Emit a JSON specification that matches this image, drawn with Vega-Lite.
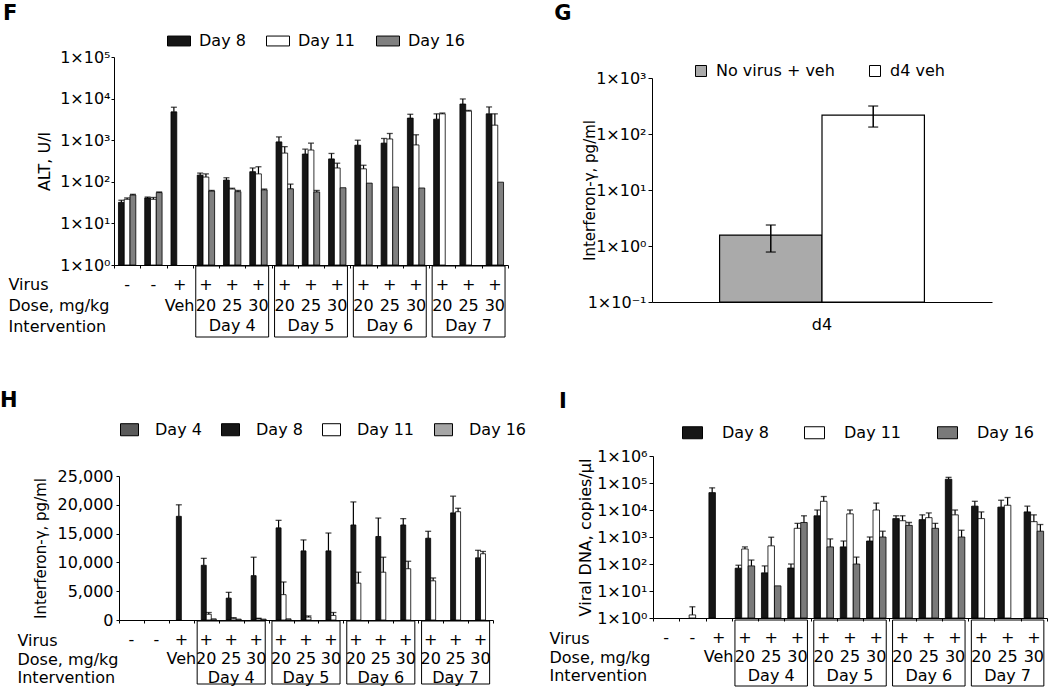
{
"$schema": "https://vega.github.io/schema/vega-lite/v6.json",
"background": "white",
"padding": {"left": 0, "top": 3, "right": 0, "bottom": 0},
"config": {
  "font": "DejaVu Sans",
  "view": {"stroke": null},
  "axis": {"labelColor": "black", "titleColor": "black", "domainColor": "black", "tickColor": "black", "grid": false, "labelFontSize": 16, "titleFontSize": 16, "titleFontWeight": "normal", "labelOverlap": false},
  "legend": {"labelColor": "black", "labelFontSize": 16},
  "title": {"fontSize": 21, "fontWeight": "bold", "anchor": "start", "frame": "bounds", "color": "black"},
  "text": {"color": "black", "fontSize": 16}
},
"datasets": {
  "F": [
    {"g":1,"s":"Day 8","v":32,"hi":36},{"g":1,"s":"Day 11","v":38,"hi":41},{"g":1,"s":"Day 16","v":48,"hi":50},
    {"g":2,"s":"Day 8","v":41,"hi":43},{"g":2,"s":"Day 11","v":38,"hi":42},{"g":2,"s":"Day 16","v":55,"hi":57},
    {"g":3,"s":"Day 8","v":4800,"hi":6200},
    {"g":4,"s":"Day 8","v":145,"hi":162},{"g":4,"s":"Day 11","v":130,"hi":155},{"g":4,"s":"Day 16","v":60,"hi":62},
    {"g":5,"s":"Day 8","v":110,"hi":125},{"g":5,"s":"Day 11","v":67,"hi":70},{"g":5,"s":"Day 16","v":58,"hi":62},
    {"g":6,"s":"Day 8","v":175,"hi":215},{"g":6,"s":"Day 11","v":155,"hi":230},{"g":6,"s":"Day 16","v":64,"hi":67},
    {"g":7,"s":"Day 8","v":910,"hi":1200},{"g":7,"s":"Day 11","v":490,"hi":700},{"g":7,"s":"Day 16","v":68,"hi":88},
    {"g":8,"s":"Day 8","v":465,"hi":610},{"g":8,"s":"Day 11","v":580,"hi":850},{"g":8,"s":"Day 16","v":57,"hi":62},
    {"g":9,"s":"Day 8","v":355,"hi":480},{"g":9,"s":"Day 11","v":215,"hi":280},{"g":9,"s":"Day 16","v":72},
    {"g":10,"s":"Day 8","v":760,"hi":1000},{"g":10,"s":"Day 11","v":205,"hi":250},{"g":10,"s":"Day 16","v":93},
    {"g":11,"s":"Day 8","v":850,"hi":1100},{"g":11,"s":"Day 11","v":1070,"hi":1450},{"g":11,"s":"Day 16","v":75},
    {"g":12,"s":"Day 8","v":3400,"hi":4200},{"g":12,"s":"Day 11","v":770,"hi":1350},{"g":12,"s":"Day 16","v":71},
    {"g":13,"s":"Day 8","v":3200,"hi":4300},{"g":13,"s":"Day 11","v":4300,"hi":4500},
    {"g":14,"s":"Day 8","v":7400,"hi":9800},{"g":14,"s":"Day 11","v":5000,"hi":5200},
    {"g":15,"s":"Day 8","v":4300,"hi":6300},{"g":15,"s":"Day 11","v":2300,"hi":4300},{"g":15,"s":"Day 16","v":98}
  ],
  "G": [
    {"grp":"d4","s":"No virus + veh","v":1.57,"lo":0.78,"hi":2.37},
    {"grp":"d4","s":"d4 veh","v":218,"lo":133,"hi":316}
  ],
  "H": [
    {"g":3,"s":"Day 8","v":18000,"hi":20000},
    {"g":4,"s":"Day 8","v":9500,"hi":10700},{"g":4,"s":"Day 11","v":1000,"hi":1300},{"g":4,"s":"Day 16","v":200},
    {"g":5,"s":"Day 8","v":3800,"hi":4800},{"g":5,"s":"Day 11","v":300,"hi":400},{"g":5,"s":"Day 16","v":150},
    {"g":6,"s":"Day 8","v":7700,"hi":10900},{"g":6,"s":"Day 11","v":250,"hi":300},{"g":6,"s":"Day 16","v":150},
    {"g":7,"s":"Day 8","v":16000,"hi":17300},{"g":7,"s":"Day 11","v":4400,"hi":6600},{"g":7,"s":"Day 16","v":200},
    {"g":8,"s":"Day 8","v":12000,"hi":13900},{"g":8,"s":"Day 11","v":500,"hi":700},
    {"g":9,"s":"Day 8","v":12000,"hi":15100},{"g":9,"s":"Day 11","v":800,"hi":1300},
    {"g":10,"s":"Day 8","v":16500,"hi":20500},{"g":10,"s":"Day 11","v":6400,"hi":8300},
    {"g":11,"s":"Day 8","v":14500,"hi":17700},{"g":11,"s":"Day 11","v":8300,"hi":10900},
    {"g":12,"s":"Day 8","v":16500,"hi":17600},{"g":12,"s":"Day 11","v":8900,"hi":10200},
    {"g":13,"s":"Day 8","v":14200,"hi":15400},{"g":13,"s":"Day 11","v":6800,"hi":7300},
    {"g":14,"s":"Day 8","v":18600,"hi":21500},{"g":14,"s":"Day 11","v":18800,"hi":19400},
    {"g":15,"s":"Day 8","v":10800,"hi":12100},{"g":15,"s":"Day 11","v":11500,"hi":11900}
  ],
  "I": [
    {"g":2,"s":"Day 11","v":1.3,"hi":2.6},
    {"g":3,"s":"Day 8","v":44000,"hi":66000},
    {"g":4,"s":"Day 8","v":70,"hi":90},{"g":4,"s":"Day 11","v":360,"hi":430},{"g":4,"s":"Day 16","v":85,"hi":140},
    {"g":5,"s":"Day 8","v":47,"hi":85},{"g":5,"s":"Day 11","v":470,"hi":980},{"g":5,"s":"Day 16","v":15.5},
    {"g":6,"s":"Day 8","v":71,"hi":100},{"g":6,"s":"Day 11","v":2100,"hi":3200},{"g":6,"s":"Day 16","v":3450,"hi":6100},
    {"g":7,"s":"Day 8","v":6100,"hi":10000},{"g":7,"s":"Day 11","v":21000,"hi":31600},{"g":7,"s":"Day 16","v":430,"hi":850},
    {"g":8,"s":"Day 8","v":430,"hi":710},{"g":8,"s":"Day 11","v":7200,"hi":10000},{"g":8,"s":"Day 16","v":100,"hi":180},
    {"g":9,"s":"Day 8","v":710,"hi":1000},{"g":9,"s":"Day 11","v":10000,"hi":18000},{"g":9,"s":"Day 16","v":1000,"hi":1640},
    {"g":10,"s":"Day 8","v":4800,"hi":6100},{"g":10,"s":"Day 11","v":4000,"hi":6100},{"g":10,"s":"Day 16","v":2700,"hi":3450},
    {"g":11,"s":"Day 8","v":4400,"hi":6600},{"g":11,"s":"Day 11","v":5200,"hi":7800},{"g":11,"s":"Day 16","v":2100,"hi":3200},
    {"g":12,"s":"Day 8","v":138000,"hi":162000},{"g":12,"s":"Day 11","v":6600,"hi":10000},{"g":12,"s":"Day 16","v":1000,"hi":1780},
    {"g":13,"s":"Day 8","v":13900,"hi":21000},{"g":13,"s":"Day 11","v":4800,"hi":8500},
    {"g":14,"s":"Day 8","v":12800,"hi":23000},{"g":14,"s":"Day 11","v":15000,"hi":29000},
    {"g":15,"s":"Day 8","v":8500,"hi":13900},{"g":15,"s":"Day 11","v":3700,"hi":6600},{"g":15,"s":"Day 16","v":1640,"hi":2900}
  ],
  "tbl": [
    {"g":1,"row":"Virus","t":"-"},{"g":2,"row":"Virus","t":"-"},{"g":3,"row":"Virus","t":"+"},
    {"g":4,"row":"Virus","t":"+"},{"g":5,"row":"Virus","t":"+"},{"g":6,"row":"Virus","t":"+"},
    {"g":7,"row":"Virus","t":"+"},{"g":8,"row":"Virus","t":"+"},{"g":9,"row":"Virus","t":"+"},
    {"g":10,"row":"Virus","t":"+"},{"g":11,"row":"Virus","t":"+"},{"g":12,"row":"Virus","t":"+"},
    {"g":13,"row":"Virus","t":"+"},{"g":14,"row":"Virus","t":"+"},{"g":15,"row":"Virus","t":"+"},
    {"g":3,"row":"Dose, mg/kg","t":"Veh"},
    {"g":4,"row":"Dose, mg/kg","t":"20"},{"g":5,"row":"Dose, mg/kg","t":"25"},{"g":6,"row":"Dose, mg/kg","t":"30"},
    {"g":7,"row":"Dose, mg/kg","t":"20"},{"g":8,"row":"Dose, mg/kg","t":"25"},{"g":9,"row":"Dose, mg/kg","t":"30"},
    {"g":10,"row":"Dose, mg/kg","t":"20"},{"g":11,"row":"Dose, mg/kg","t":"25"},{"g":12,"row":"Dose, mg/kg","t":"30"},
    {"g":13,"row":"Dose, mg/kg","t":"20"},{"g":14,"row":"Dose, mg/kg","t":"25"},{"g":15,"row":"Dose, mg/kg","t":"30"}
  ],
  "boxes": [{"b":"Day 4"},{"b":"Day 5"},{"b":"Day 6"},{"b":"Day 7"}],
  "blank": [{}]
},
"spacing": 52,
"bounds": "full",
"resolve": {"scale": {"x": "independent", "y": "independent", "xOffset": "independent", "fill": "independent"}, "legend": {"fill": "independent"}},
"vconcat": [
  {
    "hconcat": [
      {
        "title": {"text": "F", "offset": 5, "dx": -5},
        "bounds": "flush",
        "spacing": 1,
        "resolve": {"scale": {"x": "independent", "y": "independent", "xOffset": "independent", "fill": "independent"}, "legend": {"fill": "independent"}},
        "vconcat": [
          {
            "width": 394, "height": 208,
            "data": {"name": "F"},
            "encoding": {
              "x": {"field": "g", "type": "ordinal", "scale": {"domain": [1,2,3,4,5,6,7,8,9,10,11,12,13,14,15], "paddingInner": 0, "paddingOuter": 0}, "axis": {"labels": false, "title": null, "tickBand": "extent", "tickSize": 3}},
              "xOffset": {"field": "s", "type": "nominal", "scale": {"domain": ["Day 8","Day 11","Day 16"], "paddingInner": 0, "paddingOuter": 0.77}}
            },
            "layer": [
              {"mark": {"type": "bar", "stroke": "black", "strokeWidth": 0.8},
               "encoding": {
                 "y": {"field": "v", "type": "quantitative", "scale": {"type": "log", "domain": [1, 100000], "nice": false},
                       "axis": {"title": "ALT, U/l", "values": [1,10,100,1000,10000,100000], "tickSize": 3, "labelPadding": 1, "titlePadding": 7, "labelOverlap": false,
                                "labelExpr": "'1×10' + ['⁰','¹','²','³','⁴','⁵','⁶'][round(log(datum.value)/LN10)]"}},
                 "y2": {"datum": 1},
                 "fill": {"field": "s", "type": "nominal", "scale": {"domain": ["Day 8","Day 11","Day 16"], "range": ["#161616","#ffffff","#808080"]},
                          "legend": {"orient": "none", "legendX": 53, "legendY": -28, "direction": "horizontal", "title": null, "padding": 0,
                                     "symbolType": "M-1,-0.43H1V0.43H-1Z", "symbolSize": 529, "symbolStrokeColor": "black", "symbolStrokeWidth": 1,
                                     "labelOffset": 8, "columnPadding": 18}}
               }},
              {"transform": [{"filter": "isValid(datum.hi)"}],
               "mark": {"type": "rule", "color": "black", "strokeWidth": 1.2},
               "encoding": {"y": {"field": "v", "type": "quantitative"}, "y2": {"field": "hi"}}},
              {"transform": [{"filter": "isValid(datum.hi)"}],
               "mark": {"type": "tick", "color": "black", "size": 6, "thickness": 1.3},
               "encoding": {"y": {"field": "hi", "type": "quantitative"}}}
            ]
          },
          {
            "width": 394, "height": 71,
            "resolve": {"scale": {"x": "independent"}},
            "layer": [
              {"data": {"name": "boxes"},
               "mark": {"type": "rect", "fill": "white", "fillOpacity": 0, "stroke": "black", "strokeWidth": 1},
               "encoding": {"x": {"field": "b", "type": "nominal", "scale": {"domain": ["none","Day 4","Day 5","Day 6","Day 7"], "paddingInner": 0.075, "paddingOuter": 0.0375}, "axis": null}}},
              {"data": {"name": "boxes"},
               "mark": {"type": "text", "dy": 4},
               "encoding": {"x": {"field": "b", "type": "nominal", "scale": {"domain": ["none","Day 4","Day 5","Day 6","Day 7"]}, "axis": null},
                            "y": {"datum": "Intervention", "type": "nominal"},
                            "text": {"field": "b"}}},
              {"data": {"name": "tbl"},
               "mark": {"type": "text", "dy": 4},
               "encoding": {"x": {"field": "g", "type": "ordinal", "scale": {"domain": [1,2,3,4,5,6,7,8,9,10,11,12,13,14,15]}, "axis": null},
                            "y": {"field": "row", "type": "nominal", "scale": {"type": "point", "domain": ["Virus","Dose, mg/kg","Intervention"], "padding": 0.73},
                                  "axis": {"title": null, "domain": false, "ticks": false, "tickSize": 0, "labelAlign": "left", "labelPadding": 106, "labelOffset": 4, "labelBaseline": "middle"}},
                            "text": {"field": "t"}}}
            ]
          }
        ]
      },
      {
        "title": {"text": "G", "offset": 33, "dx": -28},
        "bounds": "flush",
        "spacing": 1,
        "resolve": {"scale": {"x": "independent", "y": "independent", "xOffset": "independent", "fill": "independent"}, "legend": {"fill": "independent"}},
        "vconcat": [
          {"width": 340, "height": 20, "data": {"name": "blank"}, "mark": {"type": "point", "opacity": 0}},
          {
            "width": 340, "height": 224,
            "data": {"name": "G"},
            "encoding": {
              "x": {"field": "grp", "type": "nominal", "scale": {"paddingInner": 0, "paddingOuter": 0.33}, "axis": {"title": null, "ticks": false, "labelAngle": 0, "labelPadding": 14}},
              "xOffset": {"field": "s", "type": "nominal", "scale": {"domain": ["No virus + veh","d4 veh"], "paddingInner": 0, "paddingOuter": 0}}
            },
            "layer": [
              {"mark": {"type": "bar", "stroke": "black", "strokeWidth": 1.2},
               "encoding": {
                 "y": {"field": "v", "type": "quantitative", "scale": {"type": "log", "domain": [0.1, 1000], "nice": false},
                       "axis": {"title": "Interferon-γ, pg/ml", "titleFontSize": 15, "values": [0.1,1,10,100,1000], "tickSize": 4, "labelPadding": 2, "titlePadding": -10, "labelOverlap": false,
                                "labelExpr": "'1×10' + (datum.value < 1 ? '⁻¹' : ['⁰','¹','²','³','⁴','⁵','⁶'][round(log(datum.value)/LN10)])"}},
                 "y2": {"datum": 0.1},
                 "fill": {"field": "s", "type": "nominal", "scale": {"domain": ["No virus + veh","d4 veh"], "range": ["#aaaaaa","#ffffff"]},
                          "legend": {"orient": "none", "legendX": 41, "legendY": -15, "direction": "horizontal", "title": null, "padding": 0,
                                     "symbolType": "square", "symbolSize": 121, "symbolStrokeColor": "black", "symbolStrokeWidth": 1,
                                     "labelOffset": 7, "columnPadding": 32}}
               }},
              {"mark": {"type": "rule", "color": "black", "strokeWidth": 1.5},
               "encoding": {"y": {"field": "lo", "type": "quantitative"}, "y2": {"field": "hi"}}},
              {"mark": {"type": "tick", "color": "black", "size": 10, "thickness": 1.5},
               "encoding": {"y": {"field": "lo", "type": "quantitative"}}},
              {"mark": {"type": "tick", "color": "black", "size": 10, "thickness": 1.5},
               "encoding": {"y": {"field": "hi", "type": "quantitative"}}}
            ]
          }
        ]
      }
    ],
    "spacing": 45,
    "bounds": "full",
    "resolve": {"scale": {"x": "independent", "y": "independent", "xOffset": "independent", "fill": "independent"}, "legend": {"fill": "independent"}}
  },
  {
    "hconcat": [
      {
        "title": {"text": "H", "offset": 9, "dx": -17},
        "bounds": "flush",
        "spacing": 1,
        "resolve": {"scale": {"x": "independent", "y": "independent", "xOffset": "independent", "fill": "independent"}, "legend": {"fill": "independent"}},
        "hconcat": [
          {"width": 4, "height": 1, "data": {"name": "blank"}, "mark": {"type": "point", "opacity": 0}},
          {
            "bounds": "flush",
            "spacing": 1,
            "resolve": {"scale": {"x": "independent", "y": "independent", "xOffset": "independent", "fill": "independent"}, "legend": {"fill": "independent"}},
            "vconcat": [
              {"width": 374, "height": 19, "data": {"name": "blank"}, "mark": {"type": "point", "opacity": 0}},
              {
                "width": 374, "height": 144,
                "data": {"name": "H"},
                "encoding": {
                  "x": {"field": "g", "type": "ordinal", "scale": {"domain": [1,2,3,4,5,6,7,8,9,10,11,12,13,14,15], "paddingInner": 0, "paddingOuter": 0}, "axis": {"labels": false, "title": null, "tickBand": "extent", "tickSize": 3}},
                  "xOffset": {"field": "s", "type": "nominal", "scale": {"domain": ["Day 4","Day 8","Day 11","Day 16"], "paddingInner": 0, "paddingOuter": 0.5}}
                },
                "layer": [
                  {"mark": {"type": "bar", "stroke": "black", "strokeWidth": 0.8},
                   "encoding": {
                     "y": {"field": "v", "type": "quantitative", "scale": {"domain": [0, 25000], "nice": false},
                           "axis": {"title": "Interferon-γ, pg/ml", "titleFontSize": 15, "values": [0,5000,10000,15000,20000,25000], "format": ",d", "tickSize": 3, "labelPadding": 3, "titlePadding": 9, "labelOverlap": false, "labelFlush": false}},
                     "fill": {"field": "s", "type": "nominal", "scale": {"domain": ["Day 4","Day 8","Day 11","Day 16"], "range": ["#5a5a5a","#161616","#ffffff","#a6a6a6"]},
                              "legend": {"orient": "none", "legendX": 1, "legendY": -56, "direction": "horizontal", "title": null, "padding": 0,
                                         "symbolType": "M-1,-0.67H1V0.67H-1Z", "symbolSize": 324, "symbolStrokeColor": "black", "symbolStrokeWidth": 1,
                                         "labelOffset": 16, "columnPadding": 17}}
                   }},
                  {"transform": [{"filter": "isValid(datum.hi)"}],
                   "mark": {"type": "rule", "color": "black", "strokeWidth": 1.2},
                   "encoding": {"y": {"field": "v", "type": "quantitative",
                                      "axis": {"title": "Interferon-γ, pg/ml", "titleFontSize": 15, "values": [0,5000,10000,15000,20000,25000], "format": ",d", "tickSize": 3, "labelPadding": 3, "titlePadding": 9, "labelOverlap": false, "labelFlush": false}},
                                "y2": {"field": "hi"}}},
                  {"transform": [{"filter": "isValid(datum.hi)"}],
                   "mark": {"type": "tick", "color": "black", "size": 6, "thickness": 1.3},
                   "encoding": {"y": {"field": "hi", "type": "quantitative",
                                      "axis": {"title": "Interferon-γ, pg/ml", "titleFontSize": 15, "values": [0,5000,10000,15000,20000,25000], "format": ",d", "tickSize": 3, "labelPadding": 3, "titlePadding": 9, "labelOverlap": false, "labelFlush": false}}}}
                ]
              },
              {
                "width": 374, "height": 63,
                "resolve": {"scale": {"x": "independent"}},
                "layer": [
                  {"data": {"name": "boxes"},
                   "mark": {"type": "rect", "fill": "white", "fillOpacity": 0, "stroke": "black", "strokeWidth": 1},
                   "encoding": {"x": {"field": "b", "type": "nominal", "scale": {"domain": ["none","Day 4","Day 5","Day 6","Day 7"], "paddingInner": 0.09, "paddingOuter": 0.045}, "axis": null}}},
                  {"data": {"name": "boxes"},
                   "mark": {"type": "text", "dy": 6.5},
                   "encoding": {"x": {"field": "b", "type": "nominal", "scale": {"domain": ["none","Day 4","Day 5","Day 6","Day 7"]}, "axis": null},
                                "y": {"datum": "Intervention", "type": "nominal"},
                                "text": {"field": "b"}}},
                  {"data": {"name": "tbl"},
                   "mark": {"type": "text", "dy": 6.5},
                   "encoding": {"x": {"field": "g", "type": "ordinal", "scale": {"domain": [1,2,3,4,5,6,7,8,9,10,11,12,13,14,15]}, "axis": null},
                                "y": {"field": "row", "type": "nominal", "scale": {"type": "point", "domain": ["Virus","Dose, mg/kg","Intervention"], "padding": 0.658},
                                      "axis": {"title": null, "domain": false, "ticks": false, "tickSize": 0, "labelAlign": "left", "labelPadding": 102, "labelOffset": 6.5, "labelBaseline": "middle"}},
                                "text": {"field": "t"}}}
                ]
              }
            ]
          }
        ]
      },
      {
        "title": {"text": "I", "offset": 10, "dx": 10},
        "bounds": "flush",
        "spacing": 2,
        "resolve": {"scale": {"x": "independent", "y": "independent", "xOffset": "independent", "fill": "independent"}, "legend": {"fill": "independent"}},
        "vconcat": [
          {
            "width": 394, "height": 162,
            "data": {"name": "I"},
            "encoding": {
              "x": {"field": "g", "type": "ordinal", "scale": {"domain": [1,2,3,4,5,6,7,8,9,10,11,12,13,14,15], "paddingInner": 0, "paddingOuter": 0}, "axis": {"labels": false, "title": null, "tickBand": "extent", "tickSize": 3}},
              "xOffset": {"field": "s", "type": "nominal", "scale": {"domain": ["Day 8","Day 11","Day 16"], "paddingInner": 0, "paddingOuter": 0.52}}
            },
            "layer": [
              {"mark": {"type": "bar", "stroke": "black", "strokeWidth": 0.8},
               "encoding": {
                 "y": {"field": "v", "type": "quantitative", "scale": {"type": "log", "domain": [1, 1000000], "nice": false},
                       "axis": {"title": "Viral DNA, copies/µl", "values": [1,10,100,1000,10000,100000,1000000], "tickSize": 4, "labelPadding": 2, "titlePadding": 3, "labelOverlap": false,
                                "labelExpr": "'1×10' + ['⁰','¹','²','³','⁴','⁵','⁶'][round(log(datum.value)/LN10)]"}},
                 "y2": {"datum": 1},
                 "fill": {"field": "s", "type": "nominal", "scale": {"domain": ["Day 8","Day 11","Day 16"], "range": ["#161616","#ffffff","#7a7a7a"]},
                          "legend": {"orient": "none", "legendX": 29, "legendY": -34, "direction": "horizontal", "title": null, "padding": 0,
                                     "symbolType": "M-1,-0.6H1V0.6H-1Z", "symbolSize": 400, "symbolStrokeColor": "black", "symbolStrokeWidth": 1,
                                     "labelOffset": 19, "columnPadding": 33}}
               }},
              {"transform": [{"filter": "isValid(datum.hi)"}],
               "mark": {"type": "rule", "color": "black", "strokeWidth": 1.2},
               "encoding": {"y": {"field": "v", "type": "quantitative"}, "y2": {"field": "hi"}}},
              {"transform": [{"filter": "isValid(datum.hi)"}],
               "mark": {"type": "tick", "color": "black", "size": 6, "thickness": 1.3},
               "encoding": {"y": {"field": "hi", "type": "quantitative"}}}
            ]
          },
          {
            "width": 394, "height": 66,
            "resolve": {"scale": {"x": "independent"}},
            "layer": [
              {"data": {"name": "boxes"},
               "mark": {"type": "rect", "fill": "white", "fillOpacity": 0, "stroke": "black", "strokeWidth": 1},
               "encoding": {"x": {"field": "b", "type": "nominal", "scale": {"domain": ["none","Day 4","Day 5","Day 6","Day 7"], "paddingInner": 0.08, "paddingOuter": 0.04}, "axis": null}}},
              {"data": {"name": "boxes"},
               "mark": {"type": "text", "dy": 4},
               "encoding": {"x": {"field": "b", "type": "nominal", "scale": {"domain": ["none","Day 4","Day 5","Day 6","Day 7"]}, "axis": null},
                            "y": {"datum": "Intervention", "type": "nominal"},
                            "text": {"field": "b"}}},
              {"data": {"name": "tbl"},
               "mark": {"type": "text", "dy": 4},
               "encoding": {"x": {"field": "g", "type": "ordinal", "scale": {"domain": [1,2,3,4,5,6,7,8,9,10,11,12,13,14,15]}, "axis": null},
                            "y": {"field": "row", "type": "nominal", "scale": {"type": "point", "domain": ["Virus","Dose, mg/kg","Intervention"], "padding": 0.737},
                                  "axis": {"title": null, "domain": false, "ticks": false, "tickSize": 0, "labelAlign": "left", "labelPadding": 104, "labelOffset": 4, "labelBaseline": "middle"}},
                            "text": {"field": "t"}}}
            ]
          }
        ]
      }
    ],
    "spacing": 22,
    "bounds": "full",
    "resolve": {"scale": {"x": "independent", "y": "independent", "xOffset": "independent", "fill": "independent"}, "legend": {"fill": "independent"}}
  }
]
}
